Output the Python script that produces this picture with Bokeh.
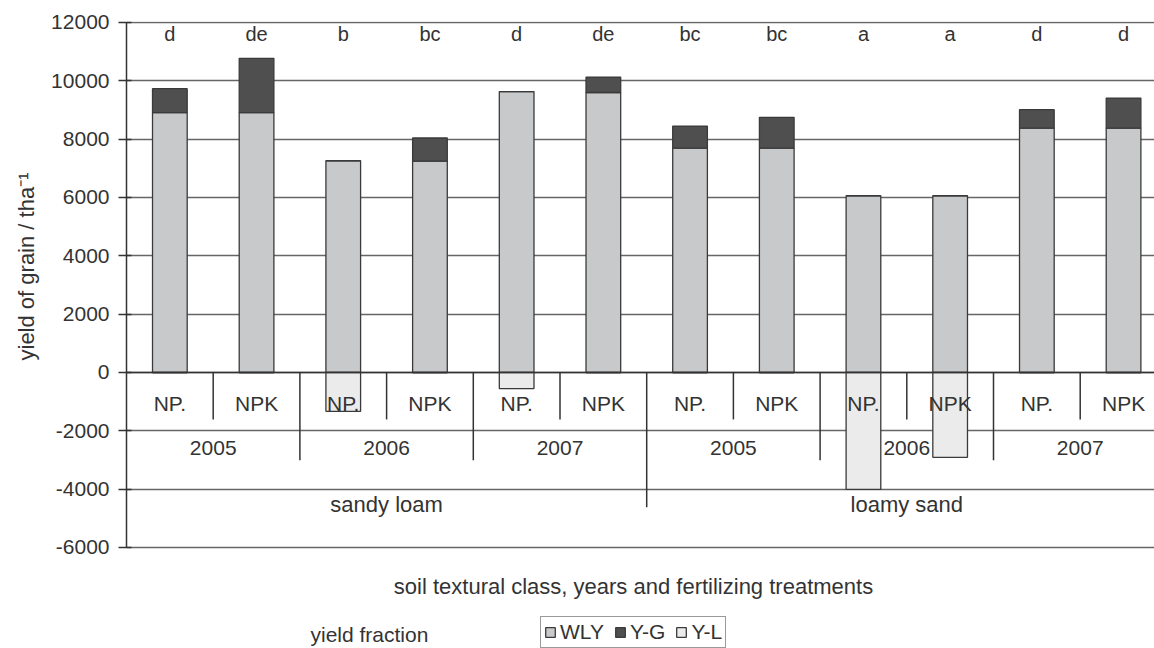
from bokeh.plotting import figure
from bokeh.models import (Range1d, ColumnDataSource, Span, Legend, LegendItem,
                          FixedTicker, Title, PrintfTickFormatter)
from bokeh.core.properties import value
from bokeh.embed import file_html
from bokeh.resources import INLINE

# ---- data ----
soils = ["sandy loam", "loamy sand"]
years = ["2005", "2006", "2007"]
treatments = ["NP.", "NPK", "NP.", "NPK", "NP.", "NPK", "NP.", "NPK", "NP.", "NPK", "NP.", "NPK"]
wly = [8910, 8910, 7260, 7250, 9630, 9600, 7690, 7690, 6060, 6060, 8380, 8380]
yg = [820, 1860, 0, 790, 0, 530, 760, 1060, 0, 0, 630, 1030]
yl = [0, 0, -1330, 0, -550, 0, 0, 0, -4010, -2910, 0, 0]
letters = ["d", "de", "b", "bc", "d", "de", "bc", "bc", "a", "a", "d", "d"]
yticks = [-6000, -4000, -2000, 0, 2000, 4000, 6000, 8000, 10000, 12000]

FONT = "Liberation Sans"
TXT = "#333333"

n = len(treatments)
xs = [i + 0.5 for i in range(n)]
src = ColumnDataSource(dict(
    x=xs,
    wly=wly,
    tot=[a + b for a, b in zip(wly, yg)],
    yl=yl,
    zero=[0] * n,
    lab=letters,
    trt=treatments,
    lab_y=[11620] * n,
    trt_y=[-1060] * n,
))

p = figure(width=1154, height=648, output_backend="svg", toolbar_location=None,
           x_range=Range1d(0, 1028 / 86.7), y_range=Range1d(-9463, 12034),
           min_border_left=126, min_border_right=0, min_border_top=21, min_border_bottom=0)
p.outline_line_color = None
p.background_fill_color = "white"
p.border_fill_color = "white"
p.xaxis.visible = False

# grid
p.xgrid.visible = False
p.ygrid.ticker = FixedTicker(ticks=yticks)
p.ygrid.grid_line_color = "#666666"
p.ygrid.grid_line_width = 1.5

# y axis
p.yaxis.ticker = FixedTicker(ticks=yticks)
p.yaxis.bounds = (-6000, 12000)
p.yaxis.formatter = PrintfTickFormatter(format="%d")
p.yaxis.axis_line_color = "#333333"
p.yaxis.axis_line_width = 1.5
p.yaxis.major_tick_line_color = "#333333"
p.yaxis.major_tick_line_width = 1.5
p.yaxis.major_tick_in = 5
p.yaxis.major_tick_out = 8
p.yaxis.minor_tick_line_color = None
p.yaxis.major_label_text_font = FONT
p.yaxis.major_label_text_font_size = "21px"
p.yaxis.major_label_text_color = TXT
p.yaxis.major_label_standoff = 9

# y axis title
p.add_layout(Title(text="yield of grain / tha\u207b\u00b9", align="left", offset=288,
                   text_font=FONT, text_font_size="22px", text_font_style="normal",
                   text_color=TXT, standoff=20), "left")

# bars
bw = 0.40
r_wly = p.vbar(x="x", bottom="zero", top="wly", width=bw, source=src,
               fill_color="#c8c9cb", line_color="#3a3a3a", line_width=1.3)
r_yg = p.vbar(x="x", bottom="wly", top="tot", width=bw, source=src,
              fill_color="#4f4f4f", line_color="#3a3a3a", line_width=1.3)
r_yl = p.vbar(x="x", bottom="yl", top="zero", width=bw, source=src,
              fill_color="#ebebeb", line_color="#3a3a3a", line_width=1.3)

# category axis line at zero
p.add_layout(Span(location=0, dimension="width", line_color="#333333", line_width=1.5))

# hierarchical category separators
sub_x = [1, 3, 5, 7, 9, 11]
year_x = [2, 4, 8, 10]
soil_x = [6]
p.segment(x0=sub_x, y0=[0] * len(sub_x), x1=sub_x, y1=[-1610] * len(sub_x),
          line_color="#333333", line_width=1.5)
p.segment(x0=year_x, y0=[0] * len(year_x), x1=year_x, y1=[-3010] * len(year_x),
          line_color="#333333", line_width=1.5)
p.segment(x0=soil_x, y0=[0], x1=soil_x, y1=[-4620],
          line_color="#333333", line_width=1.5)

# labels
p.text(x="x", y="lab_y", text="lab", source=src, text_align="center",
       text_baseline="middle", text_font=value(FONT), text_font_size="20px", text_color=TXT)
p.text(x="x", y="trt_y", text="trt", source=src, text_align="center",
       text_baseline="middle", text_font=value(FONT), text_font_size="21px", text_color=TXT)
year_labels = years * len(soils)
year_pos = [2 * i + 1 for i in range(len(year_labels))]
p.text(x=year_pos, y=[-2600] * len(year_pos), text=year_labels, text_align="center",
       text_baseline="middle", text_font=value(FONT), text_font_size="21px", text_color=TXT)
soil_pos = [6 * i + 3 for i in range(len(soils))]
p.text(x=soil_pos, y=[-4520] * len(soils), text=soils, text_align="center",
       text_baseline="middle", text_font=value(FONT), text_font_size="22px", text_color=TXT)

# x title and legend caption (inside the extended frame)
p.text(x=[(633 - 126) / 86.7], y=[-7337],
       text=["soil textural class, years and fertilizing treatments"],
       text_align="center", text_baseline="middle", text_font=value(FONT),
       text_font_size="22px", text_color=TXT)
p.text(x=[(310 - 126) / 86.7], y=[-8983], text=["yield fraction"],
       text_align="left", text_baseline="middle", text_font=value(FONT),
       text_font_size="21px", text_color=TXT)

legend = Legend(items=[LegendItem(label="WLY", renderers=[r_wly]),
                       LegendItem(label="Y-G", renderers=[r_yg]),
                       LegendItem(label="Y-L", renderers=[r_yl])],
                location=(414, 0), orientation="horizontal",
                glyph_width=12, glyph_height=12, label_standoff=4, spacing=10,
                padding=3, margin=0, label_text_font=FONT, label_text_font_size="21px",
                label_text_color=TXT, border_line_color="#333333", border_line_width=1.2,
                label_height=20, background_fill_alpha=1)
p.add_layout(legend, "center")

open("out.html", "w").write(file_html(p, INLINE))
